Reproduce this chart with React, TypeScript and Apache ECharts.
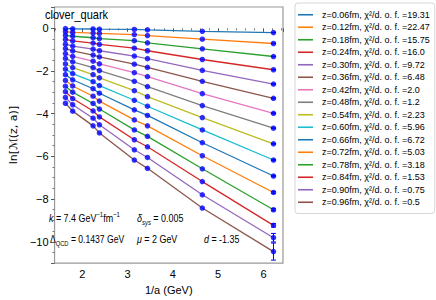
import React, { useEffect, useRef } from "react";
import * as echarts from "echarts";

const FONT = "'Liberation Sans', Arial, 'DejaVu Sans', sans-serif";

// 1/a values (GeV) of the lattice ensembles
const xs = [1.63, 1.79, 2.24, 2.38, 3.15, 3.44, 4.65, 6.22];

const zLabels = ["0.06", "0.12", "0.18", "0.24", "0.30", "0.36", "0.42", "0.48", "0.54", "0.60", "0.66", "0.72", "0.78", "0.84", "0.90", "0.96"];
const chi2 = ["19.31", "22.47", "15.75", "16.0", "9.72", "6.48", "2.0", "1.2", "2.23", "5.96", "6.72", "5.03", "3.18", "1.53", "0.75", "0.5"];

const z006 = [-0.01, -0.02, -0.03, -0.04, -0.05, -0.07, -0.14, -0.2];
const z012 = [-0.16, -0.19, -0.22, -0.24, -0.29, -0.34, -0.51, -0.71];
const z018 = [-0.33, -0.37, -0.44, -0.48, -0.58, -0.68, -0.96, -1.32];
const z024 = [-0.52, -0.59, -0.69, -0.75, -0.93, -1.05, -1.46, -1.94];
const z030 = [-0.74, -0.83, -0.97, -1.05, -1.3, -1.42, -1.97, -2.61];
const z036 = [-0.95, -1.06, -1.25, -1.34, -1.68, -1.83, -2.48, -3.28];
const z042 = [-1.18, -1.31, -1.54, -1.66, -2.08, -2.26, -3.06, -3.98];
const z048 = [-1.41, -1.57, -1.84, -1.98, -2.48, -2.73, -3.62, -4.68];
const z054 = [-1.66, -1.84, -2.17, -2.32, -2.92, -3.2, -4.18, -5.41];
const z060 = [-1.91, -2.12, -2.5, -2.68, -3.37, -3.65, -4.76, -6.17];
const z066 = [-2.17, -2.41, -2.83, -3.04, -3.82, -4.08, -5.36, -6.92];
const z072 = [-2.44, -2.7, -3.18, -3.41, -4.29, -4.57, -5.97, -7.69];
const z078 = [-2.71, -2.99, -3.52, -3.78, -4.76, -5.06, -6.58, -8.5];
const z084 = [-2.97, -3.29, -3.87, -4.15, -5.22, -5.55, -7.18, -9.23];
const z090 = [-3.24, -3.58, -4.21, -4.52, -5.69, -6.05, -7.8, -9.81];
const z096 = [-3.51, -3.88, -4.57, -4.9, -6.17, -6.56, -8.42, -10.46];

const values = [z006, z012, z018, z024, z030, z036, z042, z048, z054, z060, z066, z072, z078, z084, z090, z096];

// errors of the finest-lattice points (last column)
const lastErr = [0.01, 0.01, 0.01, 0.01, 0.01, 0.02, 0.02, 0.02, 0.02, 0.03, 0.03, 0.04, 0.05, 0.08, 0.2, 0.4];

const colors = ["#1f77b4", "#ff7f0e", "#2ca02c", "#d62728", "#9467bd", "#8c564b", "#e377c2", "#7f7f7f", "#bcbd22", "#17becf", "#1f77b4", "#ff7f0e", "#2ca02c", "#d62728", "#9467bd", "#8c564b"];

const names = zLabels.map((z, i) => `z=${z}fm, χ²/d. o. f. =${chi2[i]}`);

const fmt = (v: number) => (v < 0 ? "\u2212" + Math.abs(v) : String(v));

export default function App() {
  const ref = useRef<HTMLDivElement>(null);
  useEffect(() => {
    if (!ref.current) return;
    const chart = echarts.init(ref.current, null, { renderer: "svg" });

    const lineSeries = values.map((vals, i) => ({
      name: names[i],
      type: "line",
      data: vals.map((v, j) => [xs[j], v]),
      symbol: "none",
      showSymbol: false,
      color: colors[i],
      lineStyle: { width: 1.3, color: colors[i] },
      z: 2,
      silent: true,
    }));

    const pts: number[][] = [];
    values.forEach((vals) => vals.forEach((v, j) => pts.push([xs[j], v])));

    const errData = values.map((vals, i) => [xs[xs.length - 1], vals[vals.length - 1], lastErr[i]]);

    const rich = {
      t: { fontSize: 12, fontFamily: FONT, lineHeight: 15, color: "#000" },
      n: { fontSize: 10.5, fontFamily: FONT, lineHeight: 15, color: "#000" },
      i: { fontStyle: "italic", fontSize: 10.5, fontFamily: FONT, lineHeight: 15, color: "#000" },
      sup: { fontSize: 7, fontFamily: FONT, verticalAlign: "top", lineHeight: 9, color: "#000" },
      sub: { fontSize: 7, fontFamily: FONT, verticalAlign: "bottom", lineHeight: 9, color: "#000" },
      subi: { fontSize: 7, fontStyle: "italic", fontFamily: FONT, verticalAlign: "bottom", lineHeight: 9, color: "#000" },
    };
    const txt = (text: string, x: number, y: number, size = 10.5, sx = 0.85) => ({
      type: "group",
      x,
      y,
      scaleX: sx,
      z: 10,
      children: [
        {
          type: "text",
          x: 0,
          y: 0,
          style: {
            text,
            fontSize: size,
            fontFamily: FONT,
            fill: "#000",
            align: "left",
            verticalAlign: "middle",
            lineHeight: 15,
            rich,
          },
          z: 10,
        },
      ],
    });

    const option: any = {
      animation: false,
      backgroundColor: "#fff",
      textStyle: { fontFamily: FONT },
      grid: { left: 39, right: 153, top: 7, bottom: 35.5, show: true, borderColor: "#999", borderWidth: 1.2 },
      legend: {
        data: names,
        orient: "vertical",
        left: 295,
        top: 3,
        padding: [5.5, 5, 5, 3],
        itemGap: 0,
        itemWidth: 15,
        itemHeight: 1.6,
        icon: "rect",
        selectedMode: false,
        borderColor: "#d6d6d6",
        borderWidth: 1,
        borderRadius: 3,
        textStyle: { fontSize: 9, fontFamily: FONT, color: "#000", lineHeight: 12.5, padding: [0, 0, 0, 4] },
      },
      xAxis: {
        type: "value",
        min: 1.39,
        max: 6.43,
        splitNumber: 5,
        splitLine: { show: false },
        axisLine: { show: false },
        axisTick: { show: true, length: 3.5, lineStyle: { color: "#555" } },
        minorTick: { show: true, splitNumber: 5, length: 2, lineStyle: { color: "#777" } },
        axisLabel: {
          fontSize: 11,
          color: "#000",
          margin: 5,
          fontFamily: FONT,
          formatter: (v: number) => (Math.abs(v - Math.round(v)) > 1e-6 ? "" : fmt(Math.round(v))),
        },
        name: "1/a (GeV)",
        nameLocation: "middle",
        nameGap: 18,
        nameTextStyle: { fontSize: 11, color: "#000", fontFamily: FONT },
      },
      yAxis: {
        type: "value",
        min: -11,
        max: 1,
        splitNumber: 6,
        splitLine: { show: false },
        axisLine: { show: false },
        axisTick: { show: true, length: 3.5, lineStyle: { color: "#555" } },
        minorTick: { show: true, splitNumber: 4, length: 2, lineStyle: { color: "#777" } },
        axisLabel: {
          fontSize: 11,
          color: "#000",
          margin: 6,
          fontFamily: FONT,
          formatter: (v: number) => {
            const r = Math.round(v);
            if (Math.abs(v - r) > 1e-6 || r % 2 !== 0) return "";
            return fmt(r);
          },
        },
        name: "ln[ℳ(z, a)]",
        nameLocation: "middle",
        nameGap: 27,
        nameTextStyle: { fontSize: 11, color: "#000", fontFamily: "'DejaVu Sans', " + FONT },
      },
      series: [
        ...lineSeries,
        {
          type: "scatter",
          data: pts,
          symbol: "circle",
          symbolSize: 5.5,
          itemStyle: { color: "#0000ff" },
          z: 5,
          silent: true,
        },
        {
          type: "custom",
          data: errData,
          z: 6,
          silent: true,
          renderItem: (params: any, api: any) => {
            const x = api.value(0);
            const y = api.value(1);
            const e = api.value(2);
            const top = api.coord([x, y + e]);
            const bot = api.coord([x, y - e]);
            const w = 2.5;
            const st = { stroke: "#0000ff", lineWidth: 1 };
            return {
              type: "group",
              children: [
                { type: "line", shape: { x1: top[0], y1: top[1], x2: bot[0], y2: bot[1] }, style: st },
                { type: "line", shape: { x1: top[0] - w, y1: top[1], x2: top[0] + w, y2: top[1] }, style: st },
                { type: "line", shape: { x1: bot[0] - w, y1: bot[1], x2: bot[0] + w, y2: bot[1] }, style: st },
              ],
            };
          },
        },
      ],
      graphic: [
        txt("{t|clover_quark}", 45, 15, 12, 0.92),
        txt("{i|k}{n| = 7.4 GeV}{sup|−1}{n|fm}{sup|−1}", 49, 218),
        txt("{i|δ}{subi|sys}{n| = 0.005}", 137, 218),
        txt("{n|Λ}{sub|QCD}{n| = 0.1437 GeV}", 50, 239, 10.5, 0.82),
        txt("{i|μ}{n| = 2 GeV}", 137, 239),
        txt("{i|d}{n| = -1.35}", 204, 239),
      ],
    };
    chart.setOption(option);
    return () => chart.dispose();
  }, []);
  return <div ref={ref} style={{ width: 436, height: 300, position: "absolute", left: 0, top: 0 }} />;
}
